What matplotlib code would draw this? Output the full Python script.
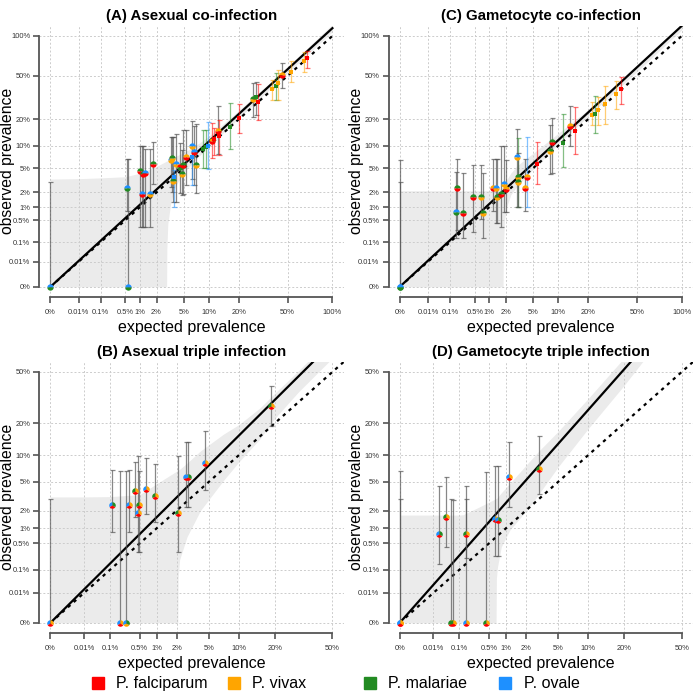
import numpy as np
import matplotlib.pyplot as plt
from matplotlib.patches import Rectangle

plt.rcParams['font.family'] = ['Liberation Sans', 'DejaVu Sans']

# colours: r = falciparum, o = vivax, g = malariae, b = ovale, k = grey bar
species = ['P. falciparum', 'P. vivax', 'P. malariae', 'P. ovale']
species_keys = ['r', 'o', 'g', 'b']
sp_col = {'r': '#FF0000', 'o': '#FFA500', 'g': '#228B22', 'b': '#1E90FF', 'k': '#555555'}

ticks_full = [0, 0.01, 0.1, 0.5, 1, 2, 5, 10, 20, 50, 100]
ticks_half = [0, 0.01, 0.1, 0.5, 1, 2, 5, 10, 20, 50]

# ---- (A) asexual co-infection (values in %) ----
a_x = [0, 0.56, 0.54, 1.02, 1.15, 1.27, 1.09, 1.55, 1.76, 3.33, 3.5, 3.6, 3.7, 3.92, 4.45, 4.95, 4.68,
       5.33, 6.4, 6.7, 7.09, 6.34, 8.49, 9.18, 9.81, 10.7, 11.3, 12.5, 12.9, 16.4, 20.0, 26.8, 28.1,
       29.5, 37.9, 40.8, 42.7, 45.8, 53.0, 65.8, 68.9]
a_y = [0, 0, 2.43, 4.58, 4.08, 4.23, 1.87, 1.87, 5.74, 6.52, 7.05, 3.16, 3.67, 5.68, 5.2, 5.55, 4.08,
       7.23, 9.9, 8.4, 5.55, 7.16, 9.1, 9.56, 10.0, 11.4, 12.0, 15.0, 13.0, 16.6, 20.4, 31.2, 32.6,
       29.7, 38.4, 41.1, 43.8, 50.5, 53.5, 66.0, 68.9]
a_lo = [0, 0, 0.83, 0.33, 0.33, 0.33, 0.33, 0.33, 2.78, 2.5, 2.0, 1.3, 1.02, 1.32, 1.95, 1.9, 1.79,
        2.7, 3.37, 2.7, 1.98, 2.7, 4.98, 4.98, 4.8, 6.9, 7.6, 7.85, 7.6, 9.0, 14.0, 21.1, 22.0,
        19.6, 30.8, 30.8, 30.8, 39.2, 44.7, 54.1, 57.6]
a_hi = [3.0, 6.7, 6.7, 10.0, 10.0, 9.1, 10.0, 9.1, 11.2, 12.7, 12.7, 12.7, 4.7, 13.8, 10.8, 15.3, 8.8,
        15.3, 19.1, 16.9, 17.7, 10.2, 15.3, 15.3, 18.8, 18.0, 16.0, 26.9, 19.6, 29.0, 28.2, 43.3, 44.0,
        42.7, 46.2, 52.5, 55.8, 63.0, 66.0, 77.2, 78.5]
a_col = ['bg', 'bg', 'bg', 'gr', 'gr', 'br', 'br', 'bo', 'gr', 'bo', 'go', 'go', 'b', 'bo', 'rg', 'gr', 'go',
         'or', 'bo', 'br', 'go', 'b', 'g', 'g', 'b', 'or', 'r', 'or', 'r', 'g', 'r', 'go', 'g',
         'r', 'o', 'g', 'o', 'or', 'o', 'o', 'r']
a_bar = ['k', 'k', 'k', 'k', 'k', 'k', 'k', 'k', 'k', 'k', 'k', 'k', 'b', 'k', 'k', 'k', 'k',
         'k', 'k', 'k', 'k', 'b', 'g', 'g', 'b', 'r', 'r', 'k', 'r', 'g', 'r', 'k', 'k',
         'r', 'o', 'g', 'o', 'k', 'o', 'o', 'r']
a_band_x = [0, 0.01, 0.1, 0.5, 1, 2, 2.88, 2.9, 3.0, 3.3, 3.6, 4, 5, 7, 10, 20, 50, 100]
a_band_hi = [3.4, 3.45, 3.55, 3.7, 4.2, 5.3, 6.3, 6.3, 6.4, 6.8, 7.1, 7.4, 8.2, 10, 13, 24.5, 59, 120]
a_band_lo = [0, 0, 0, 0, 0, 0, 0, 0.05, 0.4, 1.2, 2.0, 2.8, 4.3, 6.6, 9.8, 20.5, 53, 107]
a_slope = 1.13

# ---- (C) gametocyte co-infection ----
c_x = [0, 0, 0.16, 0.175, 0.253, 0.455, 0.70, 0.757, 1.19, 1.38, 1.41, 1.68, 1.87, 2.04, 3.02, 3.08,
       3.08, 3.93, 4.13, 5.66, 7.97, 8.57, 11.2, 13.2, 14.8, 21.7, 22.8, 24.4, 27.8, 34.7, 38.0]
c_y = [0, 0, 0.80, 2.37, 0.76, 1.62, 1.62, 0.76, 2.37, 2.37, 1.62, 1.87, 2.82, 2.28, 7.1, 3.7,
       3.08, 2.43, 3.7, 5.68, 8.58, 11.2, 10.9, 16.9, 14.9, 22.0, 22.5, 24.7, 28.0, 34.9, 38.4]
c_lo = [0, 0, 0.139, 0.26, 0.14, 0.23, 0.52, 0.14, 0.83, 0.42, 0.42, 0.33, 0.80, 0.80, 1.02, 1.0,
        1.0, 0.83, 1.0, 2.78, 4.1, 4.2, 5.25, 10.0, 7.8, 17.3, 14.2, 17.5, 17.6, 25.3, 28.0]
c_hi = [3.0, 6.6, 4.43, 6.8, 4.2, 5.6, 5.6, 4.2, 6.8, 6.8, 6.8, 10.0, 10.0, 6.5, 15.5, 12.5,
        8.0, 6.7, 12.6, 11.2, 17.3, 20.6, 22.4, 26.9, 26.5, 29.7, 33.5, 33.0, 41.1, 45.3, 49.3]
c_col = ['bg', 'bg', 'bg', 'gr', 'gr', 'gr', 'go', 'go', 'or', 'bo', 'go', 'gr', 'bo', 'or', 'bo', 'go',
         'go', 'or', 'or', 'r', 'go', 'gr', 'g', 'or', 'r', 'o', 'g', 'o', 'o', 'o', 'r']
c_bar = ['k', 'k', 'k', 'k', 'k', 'k', 'k', 'k', 'k', 'k', 'k', 'k', 'k', 'k', 'k', 'g',
         'k', 'k', 'b', 'r', 'k', 'k', 'g', 'k', 'r', 'o', 'g', 'o', 'o', 'o', 'r']
c_band_x = [0, 0.01, 0.1, 0.5, 1, 1.5, 1.8, 1.82, 1.9, 2.1, 2.4, 3, 4, 5, 7, 10, 20, 50, 100]
c_band_hi = [2.15, 2.15, 2.15, 2.15, 2.15, 2.2, 2.5, 2.5, 2.8, 3.4, 4.2, 5.4, 6.8, 8.0, 10.5, 14, 25, 58, 120]
c_band_lo = [0, 0, 0, 0, 0, 0, 0, 0.05, 0.5, 1.1, 1.8, 2.6, 3.7, 4.8, 7.0, 10.5, 21.5, 54, 110]
c_slope = 1.17

# ---- (B) asexual triple infection ----
b_x = [0, 0.114, 0.18, 0.263, 0.296, 0.41, 0.466, 0.479, 0.669, 0.957, 2.09, 2.69, 2.85, 4.47, 18.7]
b_y = [0, 2.41, 0, 0, 2.41, 3.79, 1.84, 2.41, 3.99, 3.25, 1.84, 5.63, 5.63, 8.33, 27.8]
b_lo = [0, 0.84, 0, 0, 0.84, 1.59, 0.32, 0.32, 1.74, 1.31, 0.32, 2.23, 2.23, 3.9, 18.9]
b_hi = [2.92, 6.85, 6.7, 6.7, 6.85, 8.46, 9.7, 6.7, 9.34, 7.99, 9.7, 13.5, 13.5, 17.1, 39.5]
b_col = ['bro', 'brg', 'bro', 'bog', 'bro', 'gro', 'bro', 'gro', 'bro', 'gro', 'gro', 'bro', 'brg', 'bro', 'gro']
b_band_x = [0, 0.01, 0.1, 0.5, 1.0, 2.08, 2.1, 2.2, 2.75, 4, 7.1, 10, 15.3, 20, 30, 50]
b_band_hi = [3.17, 3.17, 3.2, 3.4, 4.7, 6.8, 6.85, 7.0, 8.2, 11.0, 16, 19.5, 27, 35, 51, 85]
b_band_lo = [0, 0, 0, 0, 0, 0, 0.05, 0.2, 0.69, 2.0, 5.2, 8.5, 14.5, 22, 36, 62]
b_slope = 1.556

# ---- (D) gametocyte triple infection ----
d_x = [0, 0, 0.0182, 0.0374, 0.056, 0.0636, 0.156, 0.156, 0.444, 0.66, 0.735, 1.12, 2.97]
d_y = [0, 0, 0.80, 1.59, 0, 0, 0.80, 0, 0, 1.44, 1.40, 5.63, 6.97]
d_lo = [0, 0, 0.146, 0.42, 0, 0, 0.225, 0, 0, 0.25, 0.25, 2.23, 3.45]
d_hi = [6.7, 2.92, 4.4, 5.63, 3.0, 2.85, 4.4, 3.0, 6.5, 7.6, 7.6, 13.5, 15.4]
d_col = ['bro', 'bro', 'brg', 'gro', 'gro', 'gro', 'gro', 'bro', 'gro', 'bro', 'brg', 'bro', 'gro']
d_band_x = [0, 0.01, 0.1, 0.127, 0.32, 0.68, 0.69, 0.72, 0.84, 1.16, 2.25, 3.03, 5, 10, 20, 30]
d_band_hi = [1.7, 1.7, 1.7, 1.72, 2.28, 3.0, 3.0, 3.1, 3.6, 4.76, 8.6, 11.2, 17, 32, 62, 95]
d_band_lo = [0, 0, 0, 0, 0, 0, 0.05, 0.12, 0.42, 0.93, 2.28, 3.6, 7.5, 18, 40, 65]
d_slope = 2.6


# fourth-root axis
def fwd(v):
    v = np.asarray(v, dtype=float)
    return np.sign(v) * np.abs(v) ** 0.25


def inv(v):
    v = np.asarray(v, dtype=float)
    return np.sign(v) * np.abs(v) ** 4


def wedge(a0, a1):
    t = np.radians(np.linspace(a0, a1, 25))
    return np.column_stack([np.r_[0, np.cos(t), 0], np.r_[0, np.sin(t), 0]])


pie3 = [wedge(90, 210), wedge(210, 330), wedge(330, 450)]
tick_font = ['Liberation Sans Narrow', 'Liberation Sans', 'DejaVu Sans']


def panel(ax, title, ticks, xs, ys, lo, hi, cols, bars, bx, blo, bhi, slope):
    ax.set_xscale('function', functions=(fwd, inv))
    ax.set_yscale('function', functions=(fwd, inv))
    top = float(fwd(ticks[-1] / 100))
    m = 0.04 * top
    lim = (float(inv(-m)), float(inv(top + m)))
    ax.set_xlim(lim)
    ax.set_ylim(lim)

    tv = np.array(ticks) / 100
    labels = [('%g' % t) + '%' for t in ticks]
    ax.set_xticks(tv, labels)
    ax.set_yticks(tv, labels)
    for t in ax.get_xticklabels() + ax.get_yticklabels():
        t.set_family(tick_font)

    ax.set_axisbelow(True)
    ax.grid(True, color='#cccccc', linestyle=(0, (2, 2)), lw=0.7)
    ax.axvline(lim[1], color='#cccccc', linestyle=(0, (2, 2)), lw=0.7, zorder=0.5)

    # confidence band
    ax.fill_between(np.array(bx) / 100, np.array(blo) / 100, np.array(bhi) / 100,
                    color='#ebebeb', lw=0, zorder=0.3)

    ax.plot([0, 1], [0, slope], color='black', lw=1.6, zorder=3)
    ax.plot([0, 1], [0, 1], color='black', lw=1.6, ls=(0, (1.5, 2)), zorder=3)

    for i in range(len(xs)):
        x = xs[i] / 100
        y = ys[i] / 100
        e = [[y - lo[i] / 100], [hi[i] / 100 - y]]
        bc = bars[i] if bars is not None else 'k'
        al = 0.7 if bc == 'k' else 0.55
        ax.errorbar([x], [y], yerr=e, fmt='none', ecolor=sp_col[bc], alpha=al,
                    elinewidth=0.9, capsize=1.8, capthick=0.9, zorder=4)
        c = cols[i]
        if len(c) == 1:
            ax.plot([x], [y], 's', ms=2.6, color=sp_col[c], mew=0, zorder=5)
        elif len(c) == 2:
            ax.plot([x], [y], 'o', ms=4.6, fillstyle='top', mfc=sp_col[c[0]],
                    mfcalt=sp_col[c[1]], mew=0, zorder=5)
        else:
            for w, cc in zip(pie3, c):
                ax.scatter([x], [y], marker=w, s=22, color=sp_col[cc], lw=0, zorder=5)

    for s in ['top', 'right']:
        ax.spines[s].set_visible(False)
    for s in ['left', 'bottom']:
        ax.spines[s].set_bounds(0, tv[-1])
        ax.spines[s].set_color('#555555')
        ax.spines[s].set_linewidth(1.3)
    ax.tick_params(direction='out', length=4.5, width=1.2, color='#555555',
                   labelsize=5.4, labelcolor='#333333')
    ax.tick_params(axis='x', pad=4)
    ax.tick_params(axis='y', pad=2)

    ax.set_title(title, fontsize=10.8, fontweight='bold', pad=4.5)
    ax.set_xlabel('expected prevalence', fontsize=11.5)
    ax.set_ylabel('observed prevalence', fontsize=11.3)
    ax.xaxis.set_label_coords(0.5, -0.084)
    ax.yaxis.set_label_coords(-0.081, 0.5)


fig = plt.figure(figsize=(7, 7), dpi=100)
axA = fig.add_axes([0.056, 0.576, 0.435, 0.387])
axC = fig.add_axes([0.555, 0.576, 0.435, 0.387])
axB = fig.add_axes([0.056, 0.096, 0.435, 0.387])
axD = fig.add_axes([0.555, 0.096, 0.435, 0.387])

panel(axA, '(A) Asexual co-infection', ticks_full, a_x, a_y, a_lo, a_hi, a_col, a_bar,
      a_band_x, a_band_lo, a_band_hi, a_slope)
panel(axC, '(C) Gametocyte co-infection', ticks_full, c_x, c_y, c_lo, c_hi, c_col, c_bar,
      c_band_x, c_band_lo, c_band_hi, c_slope)
panel(axB, '(B) Asexual triple infection', ticks_half, b_x, b_y, b_lo, b_hi, b_col, None,
      b_band_x, b_band_lo, b_band_hi, b_slope)
panel(axD, '(D) Gametocyte triple infection', ticks_half, d_x, d_y, d_lo, d_hi, d_col, None,
      d_band_x, d_band_lo, d_band_hi, d_slope)

# legend along the bottom
for i, (name, k) in enumerate(zip(species, species_keys)):
    x0 = 0.14 + i * 0.194
    fig.patches.append(Rectangle((x0 - 0.0085, 0.0155), 0.017, 0.017, color=sp_col[k],
                                 transform=fig.transFigure, figure=fig))
    fig.text(x0 + 0.026, 0.024, name, fontsize=11.5, va='center', ha='left')

fig.savefig('out.png', dpi=100)
